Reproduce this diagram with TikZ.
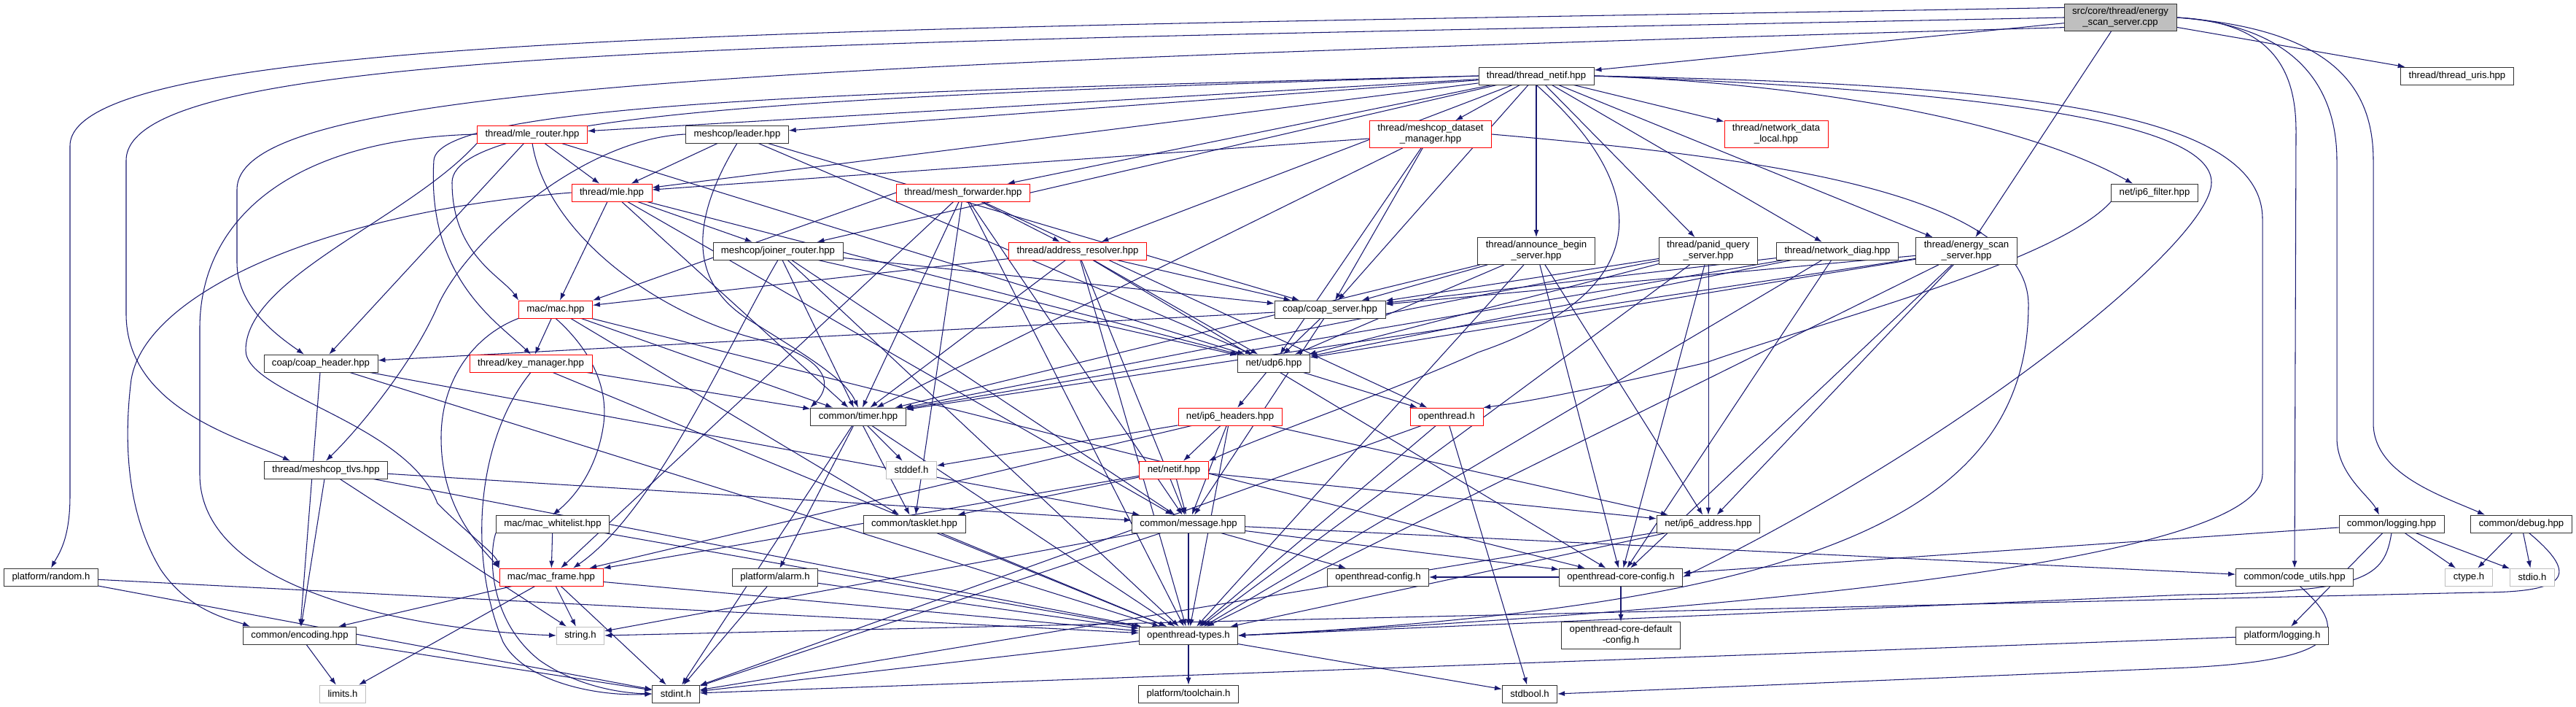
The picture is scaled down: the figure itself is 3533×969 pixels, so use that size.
\documentclass[tikz,border=0pt]{standalone}
\usepackage{fontspec}
\setmainfont{Liberation Sans}
\usetikzlibrary{arrows.meta}

\definecolor{edgeblue}{HTML}{191970}
\definecolor{hdrgray}{HTML}{BFBFBF}

\pgfdeclarelayer{edgelayer}
\pgfsetlayers{edgelayer,main}

\tikzset{
  file/.style={draw=black!80, fill=white, font=\fontsize{7.5}{8.5}\selectfont,
    inner xsep=0.22cm, inner ysep=0pt, minimum height=0.48cm},
  twoline/.style={align=center, inner ysep=0.06cm, minimum height=0.74cm},
  trunc/.style={file, draw=red},
  syshdr/.style={file, draw=hdrgray},
  rootfile/.style={file, twoline, fill=hdrgray},
  dep/.style={draw=edgeblue, line width=0.6pt, -{Latex[length=0.2cm,width=0.14cm]}}
}

\begin{document}
\begin{tikzpicture}[x=0.02cm,y=-0.02cm]
  \useasboundingbox (0,0) rectangle (3533,969);

  \node[rootfile] (root) at (2908,24) {src/core/thread/energy\\\_scan\_server.cpp};

  \node[file] (threadnetif) at (2107,104) {thread/thread\_netif.hpp};
  \node[file] (uris) at (3370,104) {thread/thread\_uris.hpp};

  \node[trunc] (mlerouter) at (730,184) {thread/mle\_router.hpp};
  \node[file] (leader) at (1011,184) {meshcop/leader.hpp};
  \node[trunc,twoline] (dsmgr) at (1962,184) {thread/meshcop\_dataset\\\_manager.hpp};
  \node[trunc,twoline] (ndlocal) at (2436,184) {thread/network\_data\\\_local.hpp};

  \node[trunc] (mle) at (839,264) {thread/mle.hpp};
  \node[trunc] (meshfwd) at (1321,264) {thread/mesh\_forwarder.hpp};
  \node[file] (ipfilter) at (2955,264) {net/ip6\_filter.hpp};

  \node[file] (joiner) at (1067,344) {meshcop/joiner\_router.hpp};
  \node[trunc] (addrres) at (1478,344) {thread/address\_resolver.hpp};
  \node[file,twoline] (announce) at (2107,344) {thread/announce\_begin\\\_server.hpp};
  \node[file,twoline] (panid) at (2343,344) {thread/panid\_query\\\_server.hpp};
  \node[file] (netdiag) at (2520,344) {thread/network\_diag.hpp};
  \node[file,twoline] (energy) at (2697,344) {thread/energy\_scan\\\_server.hpp};

  \node[trunc] (mac) at (762,424) {mac/mac.hpp};
  \node[file] (coapsrv) at (1824,424) {coap/coap\_server.hpp};

  \node[file] (coaphdr) at (440,498) {coap/coap\_header.hpp};
  \node[trunc] (keymgr) at (728,498) {thread/key\_manager.hpp};
  \node[file] (udp) at (1747,498) {net/udp6.hpp};

  \node[file] (timer) at (1177,571) {common/timer.hpp};
  \node[trunc] (ipheaders) at (1687,571) {net/ip6\_headers.hpp};
  \node[trunc] (othdr) at (1984,571) {openthread.h};

  \node[file] (tlvs) at (447,644) {thread/meshcop\_tlvs.hpp};
  \node[syshdr] (stddef) at (1250,644) {stddef.h};
  \node[trunc] (netif) at (1610,644) {net/netif.hpp};

  \node[file] (whitelist) at (758,718) {mac/mac\_whitelist.hpp};
  \node[file] (tasklet) at (1254,718) {common/tasklet.hpp};
  \node[file] (message) at (1630,718) {common/message.hpp};
  \node[file] (ipaddr) at (2343,718) {net/ip6\_address.hpp};
  \node[file] (logging) at (3280,718) {common/logging.hpp};
  \node[file] (debug) at (3458,718) {common/debug.hpp};

  \node[file] (random) at (70,791) {platform/random.h};
  \node[trunc] (macframe) at (756,791) {mac/mac\_frame.hpp};
  \node[file] (alarm) at (1063,791) {platform/alarm.h};
  \node[file] (otcfg) at (1890,791) {openthread-config.h};
  \node[file] (otcorecfg) at (2223,791) {openthread-core-config.h};
  \node[file] (codeutils) at (3147,791) {common/code\_utils.hpp};
  \node[syshdr] (ctype) at (3386,791) {ctype.h};
  \node[syshdr] (stdio) at (3473,791) {stdio.h};

  \node[file] (encoding) at (411,871) {common/encoding.hpp};
  \node[syshdr] (string) at (796,871) {string.h};
  \node[file] (ottypes) at (1630,871) {openthread-types.h};
  \node[file,twoline] (otcoredef) at (2223,871) {openthread-core-default\\-config.h};
  \node[file] (pflogging) at (3130,871) {platform/logging.h};

  \node[syshdr] (limits) at (470,951) {limits.h};
  \node[file] (stdint) at (927,951) {stdint.h};
  \node[file] (toolchain) at (1630,951) {platform/toolchain.h};
  \node[file] (stdbool) at (2098,951) {stdbool.h};

  \begin{pgfonlayer}{edgelayer}
  \foreach \src/\dsts in {
      root/{threadnetif,uris,energy},
      threadnetif/{mlerouter,leader,dsmgr,ndlocal,mle,meshfwd,joiner,addrres,announce,panid,netdiag,energy,coapsrv},
      mlerouter/{mle,udp,coaphdr},
      leader/{mle,coapsrv,udp},
      dsmgr/{mle,coapsrv,udp,timer},
      mle/{joiner,mac,udp,timer,message},
      meshfwd/{addrres,timer,tasklet,message,macframe,ottypes,othdr},
      joiner/{coapsrv,udp,timer,message,ottypes},
      addrres/{mac,coapsrv,udp,timer,message,ottypes,otcorecfg},
      announce/{coapsrv,udp,timer,ipaddr,otcorecfg,ottypes},
      panid/{coapsrv,udp,timer,ipaddr,otcorecfg,ottypes},
      netdiag/{coapsrv,udp,timer,otcorecfg,ottypes},
      energy/{coapsrv,udp,timer,ipaddr,otcorecfg,ottypes},
      mac/{keymgr,timer,tasklet,otcorecfg},
      coapsrv/{coaphdr,udp,message},
      coaphdr/{encoding,message,ottypes},
      keymgr/{timer,ottypes},
      udp/{ipheaders,othdr},
      timer/{stddef,tasklet,alarm,ottypes,stdint},
      ipheaders/{stddef,macframe,netif,message,ottypes,ipaddr},
      othdr/{ottypes,stdint,stdbool},
      netif/{tasklet,message,ipaddr,macframe},
      tlvs/{encoding,message,string,ottypes},
      tasklet/{ottypes},
      message/{ottypes,stdint,string,otcfg,otcorecfg,codeutils},
      ipaddr/{ottypes,stdint},
      whitelist/{macframe,ottypes},
      logging/{otcorecfg,pflogging,ctype,stdio},
      debug/{ctype,stdio},
      random/{ottypes,stdint},
      macframe/{encoding,limits,stdint,string,ottypes},
      alarm/{ottypes,stdint},
      otcorecfg/{otcfg,otcoredef},
      encoding/{limits,stdint},
      ottypes/{toolchain,stdint,stdbool},
      pflogging/{stdint}}
    \foreach \dst in \dsts
      \draw[dep] (\src) -- (\dst);

  \draw[dep] (root.170) .. controls (1200,40) and (96,40) .. (96,200)
    -- (96,680) .. controls (96,740) and (80,760) .. (random.north);
  \draw[dep] (root.180) .. controls (1100,60) and (173,60) .. (173,220)
    -- (173,430) .. controls (173,560) and (330,600) .. ([xshift=-0.98cm]tlvs.north);
  \draw[dep] (root.190) .. controls (1000,90) and (325,120) .. (325,260)
    -- (325,360) .. controls (325,420) and (380,460) .. ([xshift=-0.46cm]coaphdr.north);
  \draw[dep] (root.east) .. controls (3120,30) and (3149,100) .. (3149,180)
    -- (codeutils.north);
  \draw[dep] (root.east) .. controls (3150,35) and (3205,120) .. (3205,220)
    -- (3205,600) .. controls (3205,650) and (3250,680) .. ([xshift=-0.34cm]logging.north);
  \draw[dep] (root.east) .. controls (3200,40) and (3255,120) .. (3255,220)
    -- (3255,580) .. controls (3255,650) and (3350,680) .. ([xshift=-1cm]debug.north);
  \draw[dep] (threadnetif.east) .. controls (2700,115) and (3103,140) .. (3103,300)
    -- (3103,650) .. controls (3103,760) and (2500,830) .. (ottypes.east);
  \draw[dep] (threadnetif.east) .. controls (2750,125) and (3033,170) .. (3033,250)
    .. controls (3033,330) and (2700,600) .. (otcorecfg.east);
  \draw[dep] (threadnetif.east) .. controls (2500,115) and (2780,170) .. ([xshift=-0.6cm]ipfilter.north);
  \draw[dep] (threadnetif.south) .. controls (2270,260) and (2270,400) .. (2027,483)
    .. controls (1900,540) and (1750,590) .. (netif.north east);
  \draw[dep] (threadnetif.west) .. controls (1200,130) and (620,150) .. (620,250)
    .. controls (620,350) and (690,380) .. (mac.north west);
  \draw[dep] (threadnetif.west) .. controls (1200,125) and (600,140) .. (595,220)
    .. controls (585,380) and (680,440) .. (keymgr.north);
  \draw[dep] (mlerouter.west) .. controls (400,190) and (274,300) .. (274,450)
    -- (274,650) .. controls (274,820) and (600,865) .. (string.west);
  \draw[dep] (mlerouter.south west) .. controls (560,300) and (337,380) .. (337,480)
    .. controls (337,540) and (560,580) .. (600,690)
    .. controls (640,730) and (680,760) .. (macframe.north west);
  \draw[dep] (mlerouter.south) .. controls (750,320) and (900,430) .. (1040,465)
    .. controls (1120,485) and (1150,520) .. (timer.north west);
  \draw[dep] (leader.west) .. controls (800,190) and (640,330) .. (600,420)
    .. controls (570,490) and (500,580) .. (tlvs.north);
  \draw[dep] (leader.south) .. controls (960,280) and (930,380) .. (1030,440)
    .. controls (1110,490) and (1160,520) .. (timer.north);
  \draw[dep] (dsmgr.east) .. controls (2400,215) and (2785,260) .. (2782,420)
    .. controls (2780,700) and (2500,830) .. (ottypes.east);
  \draw[dep] (mle.west) .. controls (450,290) and (200,400) .. (180,520)
    .. controls (170,600) and (172,700) .. (220,780)
    .. controls (260,840) and (320,850) .. ([xshift=0.2cm]encoding.north west);
  \draw[dep] (meshfwd.west) -- (mac.north east);
  \draw[dep] (ipfilter.south west) .. controls (2820,360) and (2500,440) .. (2340,497)
    .. controls (2200,530) and (2100,550) .. (othdr.north east);
  \draw[dep] (joiner.south) .. controls (1000,470) and (900,700) .. ([xshift=0.6cm]macframe.north);
  \draw[dep] (mac.south) .. controls (800,470) and (835,520) .. (828,580)
    .. controls (820,640) and (790,680) .. (whitelist.north);
  \draw[dep] (mac.south west) .. controls (650,460) and (605,520) .. (605,600)
    .. controls (605,700) and (660,750) .. (macframe.north west);
  \draw[dep] (keymgr.south) .. controls (655,600) and (640,760) .. (690,880)
    .. controls (720,935) and (820,955) .. (stdint.west);
  \draw[dep] (whitelist.south west) .. controls (670,760) and (670,850) .. (740,905)
    .. controls (790,940) and (850,950) .. (stdint.west);
  \draw[dep] (codeutils.-60) .. controls (3230,870) and (3200,905) .. (3000,915)
    -- (stdbool.east);
  \draw[dep] (logging.south) .. controls (3270,790) and (3250,812) .. (3000,815)
    -- (ottypes.east);
  \draw[dep] (debug.-50) .. controls (3540,790) and (3520,812) .. (3400,812)
    -- (string.east);
  \end{pgfonlayer}
\end{tikzpicture}
\end{document}
